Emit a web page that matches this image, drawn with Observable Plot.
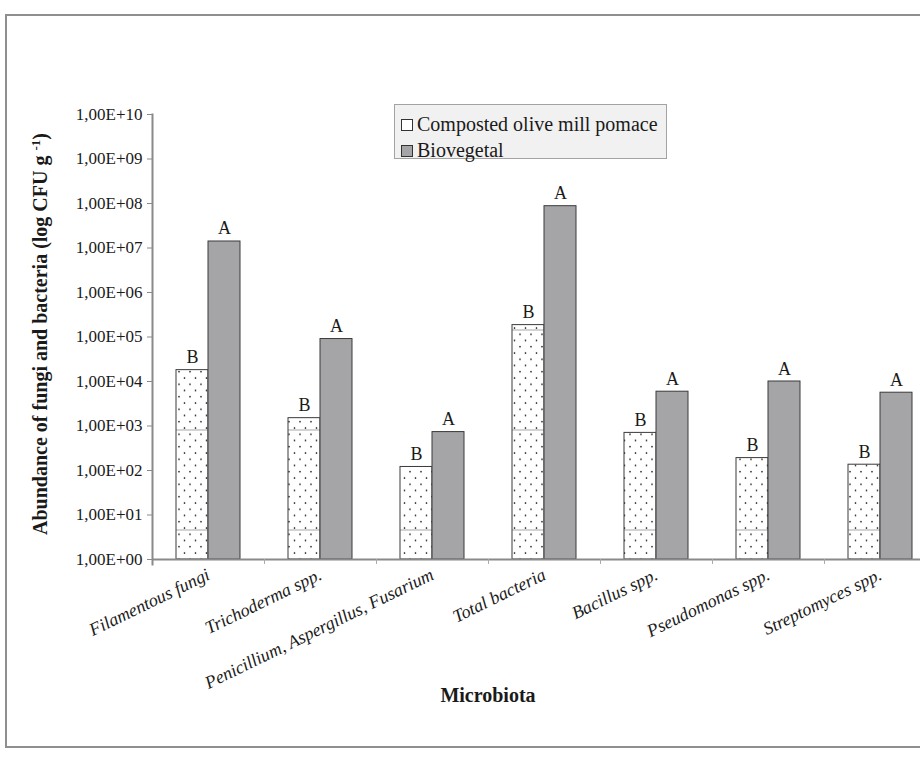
<!DOCTYPE html>
<html><head><meta charset="utf-8">
<script src="https://cdn.jsdelivr.net/npm/d3@7"></script>
<script src="https://cdn.jsdelivr.net/npm/@observablehq/plot@0.6"></script>
<style>
html,body{margin:0;padding:0;background:#fff;overflow:hidden;width:920px;height:760px;position:relative;}
#frame{position:absolute;left:5px;top:14px;width:1000px;height:734px;border:2px solid #8f8f8f;box-sizing:border-box;}
#chart{position:absolute;left:0;top:0;width:960px;height:760px;}
#legend{position:absolute;left:394px;top:104px;width:273px;height:55px;background:#f1f1f1;border:1px solid #a3a3a3;box-sizing:border-box;font-family:"Liberation Serif",serif;font-size:20px;color:#1a1a1a;}
#legend .row{position:absolute;left:6px;white-space:nowrap;line-height:1;}
#legend .sw{display:inline-block;width:10px;height:10px;border:1px solid #333;margin-right:4px;vertical-align:0px;}
#ytitle{position:absolute;left:40px;top:334px;transform:translate(-50%,-50%) rotate(-90deg);white-space:nowrap;font-family:"Liberation Serif",serif;font-weight:bold;font-size:20px;color:#1a1a1a;}
#ytitle sup{font-size:13px;vertical-align:7px;line-height:0;}
#xtitle{position:absolute;left:488px;top:684px;transform:translateX(-50%);white-space:nowrap;font-family:"Liberation Serif",serif;font-weight:bold;font-size:20px;color:#1a1a1a;}
</style>
</head><body>
<div id="frame"></div>
<div id="chart"></div>
<div id="legend">
  <div class="row" style="top:9px"><span class="sw" style="background:#fff"></span>Composted olive mill pomace</div>
  <div class="row" style="top:35px"><span class="sw" style="background:#a5a5a8"></span>Biovegetal</div>
</div>
<div id="ytitle">Abundance of fungi and bacteria (log CFU g <sup>-1</sup>)</div>
<div id="xtitle">Microbiota</div>
<script>
const categories = ["Filamentous fungi","Trichoderma spp.","Penicillium, Aspergillus, Fusarium","Total bacteria","Bacillus spp.","Pseudomonas spp.","Streptomyces spp."];
const seriesNames = ["Composted olive mill pomace","Biovegetal"];
const compostedValues = [1.8e4, 1.5e3, 1.2e2, 1.85e5, 7.0e2, 1.9e2, 1.35e2];
const biovegetalValues = [1.4e7, 9.0e4, 7.3e2, 8.7e7, 5.9e3, 1.0e4, 5.6e3];
const compostedLetters = ["B","B","B","B","B","B","B"];
const biovegetalLetters = ["A","A","A","A","A","A","A"];
const yTicks = [1, 10, 100, 1e3, 1e4, 1e5, 1e6, 1e7, 1e8, 1e9, 1e10];
const yTickLabels = ["1,00E+00","1,00E+01","1,00E+02","1,00E+03","1,00E+04","1,00E+05","1,00E+06","1,00E+07","1,00E+08","1,00E+09","1,00E+10"];

const composted = categories.map((c, i) => ({category: c, series: seriesNames[0], value: compostedValues[i], letter: compostedLetters[i]}));
const biovegetal = categories.map((c, i) => ({category: c, series: seriesNames[1], value: biovegetalValues[i], letter: biovegetalLetters[i]}));

const plot = Plot.plot({
  width: 960, height: 760,
  marginTop: 114, marginBottom: 201, marginLeft: 152, marginRight: 24,
  style: {fontFamily: "'Liberation Serif', serif", color: "#1a1a1a", background: "transparent", overflow: "visible", maxWidth: "none"},
  x: {domain: categories, paddingInner: 0.714, paddingOuter: 0.357, axis: null},
  y: {type: "log", domain: [1, 1e10], axis: null},
  marks: [
    Plot.barY(composted, {x: "category", y1: 1, y2: "value", dx: -16, fill: "url(#dots)", stroke: "#3a3a3a", strokeWidth: 1}),
    Plot.barY(biovegetal, {x: "category", y1: 1, y2: "value", dx: 16, fill: "#a5a5a8", stroke: "#3a3a3a", strokeWidth: 1}),
    Plot.text(composted, {x: "category", y: "value", text: "letter", dx: -16, dy: -7, lineAnchor: "bottom", fontSize: 18}),
    Plot.text(biovegetal, {x: "category", y: "value", text: "letter", dx: 16, dy: -7, lineAnchor: "bottom", fontSize: 18}),
    Plot.ruleY([1], {stroke: "#8a8a8a", strokeWidth: 2}),
    Plot.frame({anchor: "left", stroke: "#8a8a8a", strokeWidth: 2, insetBottom: -5}),
    Plot.axisY({ticks: yTicks, tickFormat: d => yTickLabels[yTicks.indexOf(d)], tickSize: 5, tickPadding: 5, label: null, fontSize: 17, stroke: "#8a8a8a"}),
    Plot.axisX({tickSize: 5, dx: 56, tickFormat: () => "", label: null, stroke: "#aaaaaa"}),
    Plot.axisX({tickSize: 0, tickPadding: 14, tickRotate: -26, label: null, fontSize: 18, fontStyle: "italic"})
  ]
});

// dotted fill pattern (style only)
const svg = d3.select(plot);
const defs = svg.insert("defs", ":first-child");
const grid = defs.append("pattern").attr("id", "dotgrid").attr("patternUnits", "userSpaceOnUse").attr("width", 11).attr("height", 12.5);
[[2.5,3],[8,9.25]].forEach(([cx, cy]) => grid.append("circle").attr("cx", cx).attr("cy", cy).attr("r", 0.85).attr("fill", "#111"));
const dots = defs.append("pattern").attr("id", "dots").attr("patternUnits", "userSpaceOnUse").attr("width", 1100).attr("height", 100);
dots.append("rect").attr("width", 1100).attr("height", 100).attr("fill", "#fff");
dots.append("rect").attr("width", 1100).attr("height", 100).attr("fill", "url(#dotgrid)");
dots.append("line").attr("x1", 0).attr("x2", 1100).attr("y1", 30).attr("y2", 30).attr("stroke", "#a8a8a8").attr("stroke-width", 1);

document.getElementById("chart").appendChild(plot);
</script>
</body></html>
